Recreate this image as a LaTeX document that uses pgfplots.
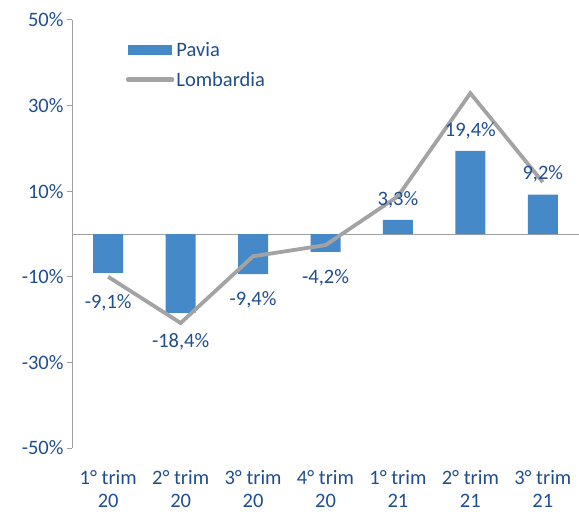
\documentclass[border=0pt]{standalone}
\usepackage{fontspec}
\setmainfont{Carlito}
\usepackage{pgfplots}
\pgfplotsset{compat=1.18}

\definecolor{barblue}{HTML}{4689C8}
\definecolor{linegray}{HTML}{A3A3A3}
\definecolor{txtblue}{HTML}{1F4E8F}
\definecolor{axgray}{HTML}{A0A0A0}

\newcommand{\lblfont}{\fontsize{20.5}{23}\selectfont}

\begin{document}
\begin{tikzpicture}
\begin{axis}[
    scale only axis,
    width=507pt, height=428pt,
    xmin=-0.5, xmax=6.5,
    ymin=-50, ymax=50,
    axis x line=none,
    axis y line*=left,
    y axis line style={axgray, line width=1pt},
    ytick={-50,-30,-10,10,30,50},
    yticklabels={-50\%,-30\%,-10\%,10\%,30\%,50\%},
    ytick style={axgray, line width=1pt},
    tick align=outside,
    major tick length=5pt,
    yticklabel style={font=\lblfont, text=txtblue},
    extra y ticks={0},
    extra y tick labels={},
    extra y tick style={grid=major, major grid style={axgray, line width=1pt}, major tick length=0pt},
    clip=false,
    legend cell align=left,
    legend style={draw=none, fill=none, at={(0.1,0.958)}, anchor=north west,
        font=\lblfont, text=txtblue, row sep=10pt},
]
\coordinate (bl) at (rel axis cs:0,0);
\coordinate (tr) at (rel axis cs:1,1);

\addplot[ybar, bar width=30pt, fill=barblue, draw=none,
    legend image code/.code={\fill[barblue] (0pt,-5pt) rectangle (44pt,5pt);}]
coordinates {(0,-9.1) (1,-18.4) (2,-9.4) (3,-4.2) (4,3.3) (5,19.4) (6,9.2)};
\addlegendentry{Pavia}

\addplot[linegray, line width=3.8pt, line join=miter, mark=none,
    legend image code/.code={\draw[linegray, line width=4.5pt, line cap=round] (0pt,0pt) -- (44pt,0pt);}]
coordinates {(0,-10.0) (1,-20.8) (2,-5.2) (3,-2.6) (4,8.8) (5,32.9) (6,12.1)};
\addlegendentry{Lombardia}

% labels of the Pavia bars
\addplot[draw=none, mark=none, forget plot,
    nodes near coords, point meta=explicit symbolic,
    every node near coord/.append style={anchor=north, inner ysep=21pt, font=\lblfont, text=txtblue}]
coordinates {(0,-9.1) [-9,1\%] (1,-18.4) [-18,4\%]};
\addplot[draw=none, mark=none, forget plot,
    nodes near coords, point meta=explicit symbolic,
    every node near coord/.append style={anchor=north, inner ysep=17pt, font=\lblfont, text=txtblue}]
coordinates {(2,-9.4) [-9,4\%] (3,-4.2) [-4,2\%]};
\addplot[draw=none, mark=none, forget plot,
    nodes near coords, point meta=explicit symbolic,
    every node near coord/.append style={anchor=south, inner ysep=12pt, font=\lblfont, text=txtblue}]
coordinates {(4,3.3) [3,3\%] (5,19.4) [19,4\%] (6,9.2) [9,2\%]};

% category labels
\addplot[draw=none, mark=none, forget plot,
    nodes near coords, point meta=explicit symbolic,
    every node near coord/.append style={anchor=north, align=center, yshift=-19pt,
        font=\lblfont, text=txtblue}]
coordinates {
    (0,-50) [1° trim\\20]
    (1,-50) [2° trim\\20]
    (2,-50) [3° trim\\20]
    (3,-50) [4° trim\\20]
    (4,-50) [1° trim\\21]
    (5,-50) [2° trim\\21]
    (6,-50) [3° trim\\21]
};
\end{axis}
\pgfresetboundingbox
\path[use as bounding box] ([xshift=-72pt,yshift=-65pt]bl) rectangle ([yshift=20pt]tr);
\end{tikzpicture}
\end{document}
